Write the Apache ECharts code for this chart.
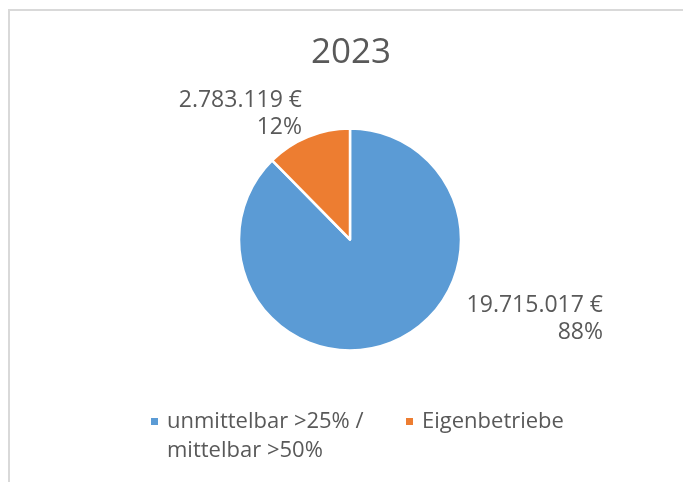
<!DOCTYPE html>
<html>
<head>
<meta charset="utf-8">
<script src="https://cdn.jsdelivr.net/npm/echarts@6/dist/echarts.min.js"></script>
<style>
  html, body { margin: 0; padding: 0; background: #fff; }
  #main { width: 683px; height: 482px; }
</style>
</head>
<body>
<div id="main"></div>
<script>
var chartTitle = '2023';
var categories = ['unmittelbar >25% /\nmittelbar >50%', 'Eigenbetriebe'];
var values = [19715017, 2783119];
var colors = ['#5B9BD5', '#ED7D31'];

var textColor = '#595959';
var fontFamily = '"Open Sans", "Noto Sans", sans-serif';

// 19715017 -> "19.715.017"
function fmt(v) {
    return String(v).replace(/\B(?=(\d{3})+(?!\d))/g, '.');
}

var pieData = [];
for (var i = 0; i < categories.length; i++) {
    pieData.push({ name: categories[i], value: values[i], itemStyle: { color: colors[i] } });
}

// where the data labels sit (right edge, middle)
var labelPos = [
    { x: 603, y: 319 },
    { x: 302, y: 114 }
];

// 7px square in the top-left of a bigger invisible box:
// lines it up with the first text line and widens the gap to the text
var tallSquare = 'path://M0,0h7v7h-7z M11,36L11,35.99';
var smallSquare = 'path://M0,0h7v7h-7z M11,0L11,0.01';

var myChart = echarts.init(document.getElementById('main'));

var option = {
    animation: false,
    title: {
        text: chartTitle,
        left: 346,
        textAlign: 'center',
        top: 31,
        textStyle: { color: textColor, fontSize: 35, fontWeight: 'normal', fontFamily: fontFamily }
    },
    legend: [{
        data: [categories[0]],
        left: 151,
        top: 407,
        padding: 0,
        icon: tallSquare,
        itemWidth: 11,
        itemHeight: 36,
        itemStyle: { borderWidth: 0 },
        textStyle: {
            color: textColor, fontSize: 22, fontFamily: fontFamily, lineHeight: 29
        }
    }, {
        data: [categories[1]],
        left: 406,
        top: 407,
        padding: 0,
        icon: smallSquare,
        itemWidth: 11,
        itemHeight: 7,
        itemStyle: { borderWidth: 0 },
        textStyle: {
            color: textColor, fontSize: 22, fontFamily: fontFamily, lineHeight: 29
        }
    }],
    graphic: [{
        type: 'rect',
        shape: { x: 9, y: 10, width: 720, height: 520 },
        style: { fill: 'none', stroke: '#d9d9d9', lineWidth: 2 },
        silent: true
    }],
    series: [{
        type: 'pie',
        center: [350, 239.5],
        radius: 111,
        startAngle: 90,
        clockwise: true,
        itemStyle: { borderColor: '#fff', borderWidth: 2.5 },
        label: {
            show: true,
            color: textColor,
            fontSize: 23,
            fontFamily: fontFamily,
            lineHeight: 27,
            align: 'right',
            formatter: function (p) {
                return fmt(p.value) + ' €\n' + Math.round(p.percent) + '%';
            }
        },
        labelLine: { show: false },
        labelLayout: function (params) {
            var pos = labelPos[params.dataIndex];
            return { x: pos.x, y: pos.y, align: 'right', verticalAlign: 'middle' };
        },
        emphasis: { disabled: true },
        data: pieData
    }]
};

myChart.setOption(option);
</script>
</body>
</html>
